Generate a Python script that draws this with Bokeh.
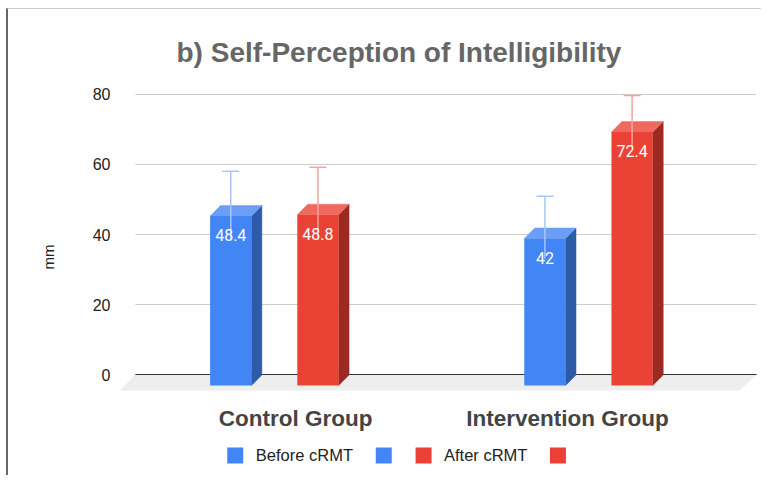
from bokeh.plotting import figure
from bokeh.models import Range1d, FixedTicker, Title
from bokeh.core.properties import value
from bokeh.embed import file_html
from bokeh.resources import INLINE

# ---------------- data ----------------
groups = ["Control Group", "Intervention Group"]
series = ["Before cRMT", "After cRMT"]
before = [48.4, 42.0]
after = [48.8, 72.4]
before_err = [9.7, 8.9]
after_err = [10.4, 7.3]
y_ticks = [0, 20, 40, 60, 80]
y_label = "mm"

# ---------------- layout constants ----------------
FONT = "Liberation Sans"
GROUP0 = 271.6      # x of first group's centre (page px units)
GROUP_STEP = 315.6
BAR_OFF = 43.8      # half distance between the two bars of a group
BAR_HALF = 20.75
DX = 10.5           # 3-D depth, horizontal (px)
DY = 3.0            # 3-D depth, vertical (value units)
FRONT = -3.14       # front plane shift (value units)

front_col = ["#4285f4", "#ea4335"]
top_col = ["#6c9ef6", "#ee6a5f"]
side_col = ["#2d5baa", "#9b2a22"]
err_col = ["#a9c6fa", "#f5a49e"]

p = figure(width=755, height=467, output_backend="svg", toolbar_location=None,
           x_range=Range1d(110, 763), y_range=Range1d(-29.14, 84.57),
           x_axis_location=None, y_axis_location="left",
           min_border_left=102, min_border_right=0, min_border_top=69,
           min_border_bottom=0)
p.styles = {"margin-left": "6px", "margin-top": "8px",
            "border-left": "2px solid #666666", "border-top": "1px solid #cccccc"}
p.grid.visible = False
p.outline_line_color = None
p.background_fill_color = "white"
p.border_fill_color = "white"

# title
p.title.text = "b) Self-Perception of Intelligibility"
p.title.text_font = FONT
p.title.text_font_size = "28px"
p.title.text_font_style = "bold"
p.title.text_color = "#666666"
p.title.align = "left"
p.title.offset = 63
p.title.standoff = 21

# y axis
ax = p.yaxis[0]
ax.ticker = FixedTicker(ticks=y_ticks)
ax.major_tick_out = 0
ax.major_tick_in = 0
ax.minor_tick_out = 0
ax.minor_tick_in = 0
ax.axis_line_color = None
ax.major_label_standoff = 3
ax.major_label_text_font = FONT
ax.major_label_text_font_size = "16px"
ax.major_label_text_color = "#222222"

# y-axis title, placed on the left side where the original puts it
p.add_layout(Title(text=y_label, align="left", offset=207, standoff=62,
                   vertical_align="top",
                   text_font=FONT, text_font_size="15px",
                   text_font_style="normal", text_color="#222222"), "left")

# gridlines, floor, baseline
GX0, GX1 = 132, 756
grid_y = [t for t in y_ticks if t != 0]
p.segment(x0=[GX0] * len(grid_y), y0=grid_y, x1=[GX1] * len(grid_y), y1=grid_y,
          line_color="#cccccc", line_width=1)
p.patch([GX0, GX1, 739, 116], [0, 0, -4.57, -4.57], fill_color="#eeeeee",
        line_color=None)
p.segment(x0=[GX0], y0=[0], x1=[GX1], y1=[0], line_color="#333333", line_width=1)

values = [before, after]
errs = [before_err, after_err]

for s in range(2):
    xs_side, ys_side, xs_top, ys_top = [], [], [], []
    fl, fr, fb, ft = [], [], [], []
    xc_list = []
    for g in range(2):
        v = values[s][g]
        xc = GROUP0 + g * GROUP_STEP + (s - 0.5) * 2 * BAR_OFF
        x0, x1 = xc - BAR_HALF, xc + BAR_HALF
        yb, yt = FRONT, v + FRONT
        xs_side.append([x1, x1, x1 + DX, x1 + DX])
        ys_side.append([yb, yt, yt + DY, yb + DY])
        xs_top.append([x0, x1, x1 + DX, x0 + DX])
        ys_top.append([yt, yt, yt + DY, yt + DY])
        fl.append(x0); fr.append(x1); fb.append(yb); ft.append(yt)
        xc_list.append(xc)
    p.patches(xs_side, ys_side, fill_color=side_col[s], line_color=side_col[s],
              line_width=0.5)
    p.patches(xs_top, ys_top, fill_color=top_col[s], line_color=top_col[s],
              line_width=0.5)
    p.quad(left=fl, right=fr, bottom=fb, top=ft, fill_color=front_col[s],
           line_color=None)
    # error bars
    lo = [values[s][g] - errs[s][g] for g in range(2)]
    hi = [values[s][g] + errs[s][g] for g in range(2)]
    p.segment(x0=xc_list, y0=lo, x1=xc_list, y1=hi, line_color=err_col[s],
              line_width=1.5)
    p.segment(x0=[x - 8.5 for x in xc_list], y0=hi, x1=[x + 8.5 for x in xc_list],
              y1=hi, line_color=err_col[s], line_width=1.5)
    # data labels
    p.text(x=xc_list, y=[values[s][g] + FRONT - 5.45 for g in range(2)],
           text=[f"{values[s][g]:g}" for g in range(2)],
           text_color="white", text_font=value("Roboto"), text_font_size="16px",
           text_align="center", text_baseline="middle")

# category labels
p.text(x=[293, 566], y=[-12.57, -12.57], text=groups, text_color="#444444",
       text_font=value(FONT), text_font_size="22.5px", text_font_style="bold",
       text_align="center", text_baseline="middle")

# legend (manual, matching the original layout)
leg_y = -23.14
sq_x = [232.3, 381.5, 421.5, 556.5]
sq_c = [front_col[0], front_col[0], front_col[1], front_col[1]]
p.rect(x=sq_x, y=[leg_y] * 4, width=16, height=16, width_units="screen",
       height_units="screen", fill_color=sq_c, line_color=None)
p.text(x=[253, 442], y=[leg_y, leg_y], text=series, text_color="#222222",
       text_font=value(FONT), text_font_size="16.5px", text_align="left",
       text_baseline="middle")

open("out.html", "w").write(file_html(p, INLINE))
